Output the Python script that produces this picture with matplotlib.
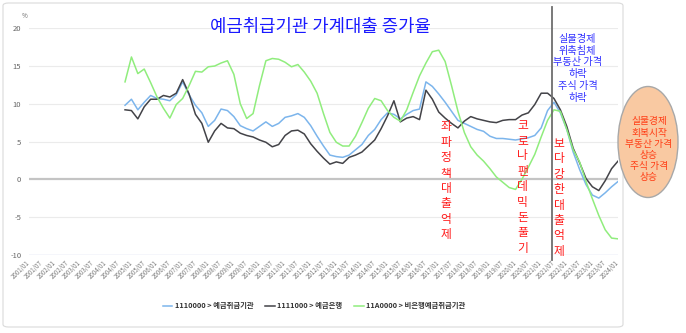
import matplotlib
matplotlib.use("Agg")
import matplotlib.pyplot as plt
from matplotlib.patches import Ellipse, FancyBboxPatch
import numpy as np
import pandas as pd

plt.rcParams['font.family'] = ['Noto Sans CJK KR', 'DejaVu Sans']

# ── data: 가계대출 증가율 (전년동기대비, %), 분기 ─────────────────────────────
quarters = pd.date_range("2004-10-01", periods=78, freq="3MS")

deposit_corps = [  # 1110000 > 예금취급기관
    9.8, 10.6, 9.2, 10.2, 11.1, 10.7, 10.6, 10.4, 11.2, 12.9,
    11.2, 9.8, 8.8, 7.0, 7.8, 9.3, 9.1, 8.3, 7.1, 6.7,
    6.4, 7.0, 7.6, 7.0, 7.4, 8.2, 8.4, 8.7, 8.2, 7.1,
    5.7, 4.4, 3.2, 3.0, 2.9, 3.2, 3.9, 4.6, 5.8, 6.6,
    7.9, 8.8, 8.6, 8.0, 8.6, 9.1, 9.3, 12.9, 12.3, 11.3,
    10.2, 9.0, 7.8, 7.4, 7.0, 6.6, 6.35, 5.7, 5.4, 5.4,
    5.3, 5.2, 5.35, 5.5, 5.8, 6.8, 9.1, 10.2, 8.8, 6.6,
    3.6, 1.3, -0.7, -2.1, -2.5, -1.8, -1.0, -0.3,
]
banks = [  # 1111000 > 예금은행
    9.2, 9.1, 8.0, 9.6, 10.6, 10.6, 11.1, 10.9, 11.4, 13.2,
    11.3, 8.6, 7.4, 4.9, 6.4, 7.4, 6.8, 6.7, 6.1, 5.8,
    5.6, 5.2, 4.9, 4.3, 4.6, 5.8, 6.4, 6.5, 6.0, 4.7,
    3.7, 2.8, 2.0, 2.3, 2.1, 2.9, 3.2, 3.6, 4.4, 5.2,
    6.7, 8.4, 10.4, 7.6, 8.1, 8.3, 7.9, 11.8, 10.6, 8.9,
    8.1, 7.4, 6.8, 7.7, 8.3, 8.0, 7.8, 7.6, 7.5, 7.8,
    7.9, 7.9, 8.5, 8.8, 9.9, 11.4, 11.4, 10.7, 9.2, 7.0,
    4.1, 2.2, 0.1, -1.0, -1.5, -0.2, 1.4, 2.4,
]
non_banks = [  # 11A0000 > 비은행예금취급기관
    12.9, 16.2, 14.0, 14.6, 12.8, 10.9, 9.4, 8.1, 9.9, 10.7,
    12.4, 14.3, 14.2, 14.9, 15.0, 15.4, 15.7, 13.9, 10.0, 8.05,
    8.7, 12.4, 15.7, 16.0, 15.9, 15.5, 14.9, 15.2, 14.2, 13.0,
    11.4, 8.7, 6.2, 4.9, 4.4, 4.4, 5.7, 7.5, 9.4, 10.7,
    10.4, 9.1, 8.2, 7.7, 9.2, 11.5, 13.7, 15.4, 16.9, 17.1,
    15.6, 12.4, 9.0, 6.2, 4.3, 3.2, 2.4, 1.4, 0.3, -0.4,
    -1.1, -1.35, 0.0, 1.6, 3.3, 5.6, 7.8, 9.2, 9.0, 6.6,
    3.9, 2.3, -0.3, -2.6, -4.8, -6.7, -7.8, -7.9,
]
series_labels = ["1110000 > 예금취급기관", "1111000 > 예금은행", "11A0000 > 비은행예금취급기관"]
series_colors = ["#7cb5ec", "#434348", "#90ed7d"]

tick_dates = pd.date_range("2001-01-01", "2024-01-01", freq="6MS")
y_ticks = [-10, -5, 0, 5, 10, 15, 20]
turn_date = pd.Timestamp("2021-06-01")

title = "예금취급기관 가계대출 증가율"
note_down = "실물경제\n위축침체\n부동산 가격\n하락\n주식 가격\n하락"
note_up = "실물경제\n회복시작\n부동산 가격\n상승\n주식 가격\n상승"
policy_notes = ["좌파정책대출억제", "코로나팬데믹돈풀기", "보다강한대출억제"]


def month_index(d):
    # months since 2001/01 -> category position on the x axis
    return (d.year - 2001) * 12 + d.month - 1


W, H = 686, 333
fig = plt.figure(figsize=(W / 100, H / 100), dpi=100)
fig.patch.set_facecolor("white")

# outer card
fig.add_artist(FancyBboxPatch((3 / W, 1 - 327 / H), 620 / W, 324 / H,
                              boxstyle="round,pad=0,rounding_size=0.008",
                              transform=fig.transFigure, facecolor="white",
                              edgecolor="#dadada", lw=0.8, zorder=0))

ax = fig.add_axes([29 / W, 1 - 254.7 / H, 589 / W, 226.4 / H])
ax.set_facecolor("none")
for s in ax.spines.values():
    s.set_visible(False)

x = np.array([month_index(d) for d in quarters])
for vals, lab, col in zip([deposit_corps, banks, non_banks], series_labels, series_colors):
    ax.plot(x, vals, color=col, lw=1.1, label=lab, zorder=3, solid_joinstyle="round")

ax.set_xlim(0, 276)
ax.set_ylim(-10, 20)

# grid + zero line
for yv in y_ticks:
    if yv == -10:
        ax.axhline(yv, color="#ccd6eb", lw=1.0, zorder=1)
    elif yv == 0:
        ax.axhline(yv, color="#c4c4c4", lw=1.6, zorder=1)
    else:
        ax.axhline(yv, color="#ebebeb", lw=0.8, zorder=1)

ax.set_yticks(y_ticks)
ax.set_yticklabels([str(v) for v in y_ticks], fontsize=5.5, color="#666666")
ax.tick_params(axis="y", length=0, pad=5.5)

ax.set_xticks([month_index(d) for d in tick_dates])
ax.set_xticklabels([d.strftime("%Y/%m") for d in tick_dates], fontsize=4.4,
                   color="#777777", rotation=45, ha="right", va="center",
                   rotation_mode="anchor")
ax.tick_params(axis="x", length=0, pad=5)

fig.text(25 / W, 1 - 16 / H, "%", fontsize=4.5, color="#666666", ha="center", va="center")

# policy turning point
ax.axvline(month_index(turn_date), ymin=-0.023, ymax=1.094, color="#6e6e6e",
           lw=1.3, clip_on=False, zorder=4)

fig.text(320 / W, 1 - 27 / H, title, fontsize=12.8, color="#1a1aff",
         ha="center", va="center")

ax.text(257, 14.7, note_down, fontsize=7.3, color="#3030ff", ha="center",
        va="center", linespacing=1.22, zorder=5)

for txt, xi, yc in zip(policy_notes, [195.4, 231.3, 248.4], [-0.2, -1.0, -2.4]):
    ax.text(xi, yc, "\n".join(txt), fontsize=8.5, color="#ff1a1a", ha="center",
            va="center", linespacing=1.24, zorder=5)

# recovery bubble on the right
fig.add_artist(Ellipse((648 / W, 1 - 142 / H), 60 / W, 111 / H,
                       transform=fig.transFigure, facecolor="#f9c9a2",
                       edgecolor="#a8a8a8", lw=1.0, zorder=6))
fig.text(649 / W, 1 - 149.5 / H, note_up, fontsize=7, color="#ff3c14",
         ha="center", va="center", linespacing=1.15, zorder=7)

leg = ax.legend(loc="center", bbox_to_anchor=(314 / W, 1 - 305.7 / H),
                bbox_transform=fig.transFigure, ncol=3, frameon=False,
                handlelength=1.3, handletextpad=0.35, columnspacing=1.6,
                prop={"size": 5.3, "weight": "bold"})
for t in leg.get_texts():
    t.set_color("#333333")

fig.savefig("out.png", dpi=100)
